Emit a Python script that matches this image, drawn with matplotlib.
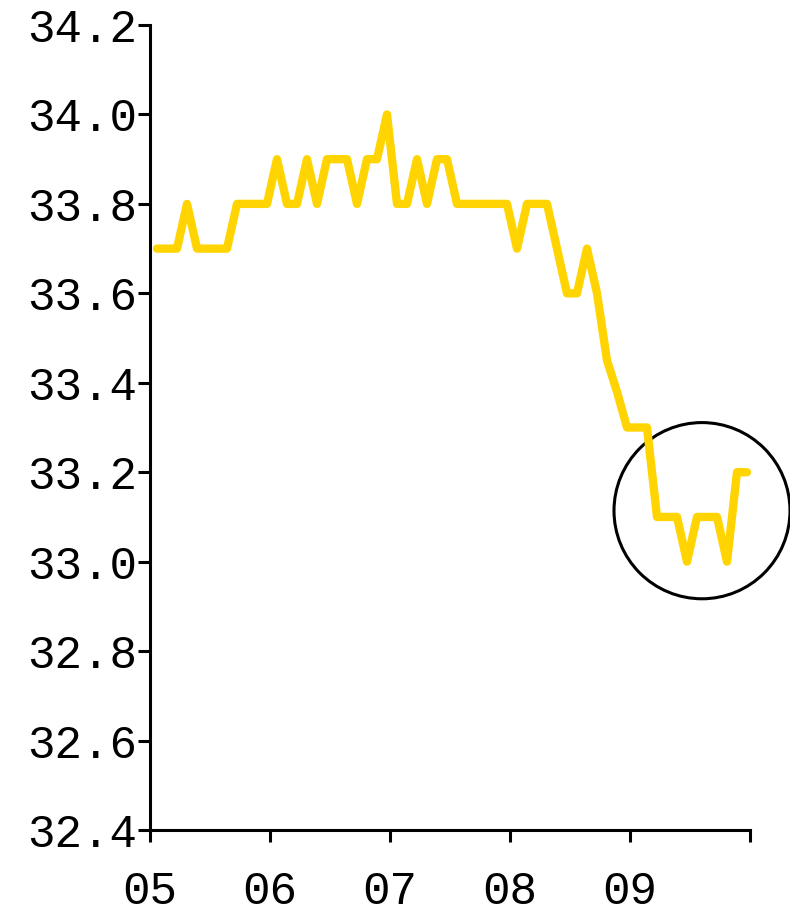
import numpy as np
import matplotlib
matplotlib.use("Agg")
import matplotlib.pyplot as plt
from matplotlib.patches import Ellipse

# monthly values, Jan 2005 - Dec 2009
VALUES_2005 = [33.7, 33.7, 33.7, 33.8, 33.7, 33.7, 33.7, 33.7, 33.8, 33.8, 33.8, 33.8]
VALUES_2006 = [33.9, 33.8, 33.8, 33.9, 33.8, 33.9, 33.9, 33.9, 33.8, 33.9, 33.9, 34.0]
VALUES_2007 = [33.8, 33.8, 33.9, 33.8, 33.9, 33.9, 33.8, 33.8, 33.8, 33.8, 33.8, 33.8]
VALUES_2008 = [33.7, 33.8, 33.8, 33.8, 33.7, 33.6, 33.6, 33.7, 33.6, 33.45, 33.38, 33.3]
VALUES_2009 = [33.3, 33.3, 33.1, 33.1, 33.1, 33.0, 33.1, 33.1, 33.1, 33.0, 33.2, 33.2]

YEAR_LABELS = ["05", "06", "07", "08", "09", ""]
Y_TICKS = [32.4, 32.6, 32.8, 33.0, 33.2, 33.4, 33.6, 33.8, 34.0, 34.2]

LINE_COLOR = "#FFD400"
FONT = ["Liberation Mono", "DejaVu Sans Mono"]

values = VALUES_2005 + VALUES_2006 + VALUES_2007 + VALUES_2008 + VALUES_2009
x = np.arange(len(values)) + 0.7  # roughly mid-month

fig = plt.figure(figsize=(7.9, 9.13), dpi=100)
ax = fig.add_axes([150 / 790, 83 / 913, 600 / 790, 805 / 913])

ax.plot(x, values, color=LINE_COLOR, lw=6,
        solid_capstyle="round", solid_joinstyle="round", clip_on=False)

# highlight of the latest months
circ = Ellipse((55.2, 33.114), width=17.6, height=0.394, fill=False,
               edgecolor="black", lw=2.2, clip_on=False)
ax.add_patch(circ)

ax.set_xlim(0, 60)
ax.set_ylim(32.4, 34.2)
ax.set_xticks(np.arange(0, 61, 12))
ax.set_xticklabels(YEAR_LABELS)
ax.set_yticks(Y_TICKS)
ax.set_yticklabels([f"{v:.1f}" for v in Y_TICKS])

for side in ["top", "right"]:
    ax.spines[side].set_visible(False)
for side in ["left", "bottom"]:
    ax.spines[side].set_linewidth(2.2)
    ax.spines[side].set_color("black")

ax.tick_params(axis="both", direction="out", length=8.6, width=2.2, color="black")
ax.tick_params(axis="y", pad=1)
ax.tick_params(axis="x", pad=20)
for lab in ax.get_xticklabels() + ax.get_yticklabels():
    lab.set_fontfamily(FONT)
    lab.set_fontsize(33)

fig.savefig("out.png", dpi=100)
